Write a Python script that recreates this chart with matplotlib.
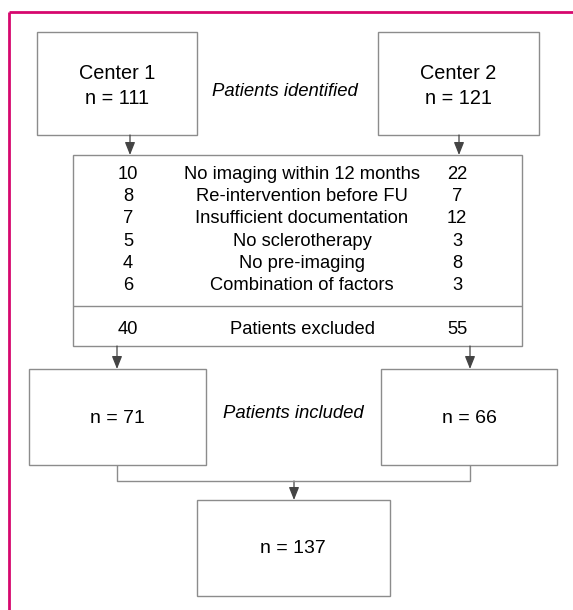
import matplotlib
matplotlib.use('Agg')
import matplotlib.pyplot as plt
from matplotlib.patches import Rectangle, FancyArrowPatch

plt.rcParams['font.family'] = ['Liberation Sans', 'DejaVu Sans']

# Flowchart content
centers = ['Center 1', 'Center 2']
identified = [111, 121]
reasons = ['No imaging within 12 months',
           'Re-intervention before FU',
           'Insufficient documentation',
           'No sclerotherapy',
           'No pre-imaging',
           'Combination of factors']
excluded_c1 = [10, 8, 7, 5, 4, 6]
excluded_c2 = [22, 7, 12, 3, 8, 3]
total_excluded = [40, 55]
included = [71, 66]
total_included = 137

BOX_EDGE = '#8c8c8c'
LINE = '#444444'
FRAME = '#d6076e'
ROW_FS = 13.2


def box(ax, x0, y0, x1, y1):
    ax.add_patch(Rectangle((x0, y0), x1 - x0, y1 - y0, fill=False,
                           edgecolor=BOX_EDGE, linewidth=1.0))


def arrow(ax, x, y0, y1):
    ax.add_patch(FancyArrowPatch((x, y0), (x, y1),
                                 arrowstyle='-|>,head_length=0.55,head_width=0.22',
                                 mutation_scale=14, color=LINE, linewidth=0.9,
                                 shrinkA=0, shrinkB=0))


def line(ax, xs, ys):
    ax.plot(xs, ys, color=BOX_EDGE, linewidth=1.0, solid_capstyle='butt')


def main():
    fig = plt.figure(figsize=(5.73, 6.10), dpi=100)
    ax = fig.add_axes([0, 0, 1, 1])
    ax.set_xlim(0, 573)
    ax.set_ylim(610, 0)
    ax.axis('off')

    # magenta frame (top and left edges visible)
    ax.plot([9, 573], [12, 12], color=FRAME, linewidth=2.0, solid_capstyle='butt')
    ax.plot([9, 9], [12, 610], color=FRAME, linewidth=2.0, solid_capstyle='butt')

    # top boxes
    top_x = [(37, 197), (378, 539)]
    for (x0, x1), name, n in zip(top_x, centers, identified):
        box(ax, x0, 32, x1, 135)
        xc = (x0 + x1) / 2
        ax.text(xc, 79, name, ha='center', va='baseline', fontsize=14.3)
        ax.text(xc, 104, 'n = {}'.format(n), ha='center', va='baseline',
                fontsize=14.3)
    ax.text(285, 96, 'Patients identified', ha='center', va='baseline',
            fontsize=13.3, style='italic')

    arrow(ax, 130, 135, 155)
    arrow(ax, 459, 135, 155)

    # exclusion box
    box(ax, 73, 155, 522, 346)
    line(ax, [73, 522], [306, 306])
    for i, (reason, a, b) in enumerate(zip(reasons, excluded_c1, excluded_c2)):
        yb = 179 + i * 22.2
        ax.text(128, yb, str(a), ha='center', va='baseline', fontsize=ROW_FS)
        ax.text(302, yb, reason, ha='center', va='baseline', fontsize=ROW_FS)
        ax.text(457, yb, str(b), ha='center', va='baseline', fontsize=ROW_FS)
    ax.text(128, 334, str(total_excluded[0]), ha='center', va='baseline',
            fontsize=ROW_FS)
    ax.text(302, 334, 'Patients excluded', ha='center', va='baseline',
            fontsize=ROW_FS)
    ax.text(457, 334, str(total_excluded[1]), ha='center', va='baseline',
            fontsize=ROW_FS)

    arrow(ax, 117, 346, 369)
    arrow(ax, 470, 346, 369)

    # included boxes
    inc_x = [(29, 206), (381, 557)]
    for (x0, x1), n in zip(inc_x, included):
        box(ax, x0, 369, x1, 465)
        ax.text((x0 + x1) / 2, 423, 'n = {}'.format(n), ha='center',
                va='baseline', fontsize=14)
    ax.text(293, 418, 'Patients included', ha='center', va='baseline',
            fontsize=13.3, style='italic')

    # merge connector
    line(ax, [117, 117, 470, 470], [465, 481, 481, 465])
    arrow(ax, 294, 481, 500)

    box(ax, 197, 500, 390, 596)
    ax.text(293, 553, 'n = {}'.format(total_included), ha='center',
            va='baseline', fontsize=14)

    fig.savefig('out.png', dpi=100)


if __name__ == '__main__':
    main()
